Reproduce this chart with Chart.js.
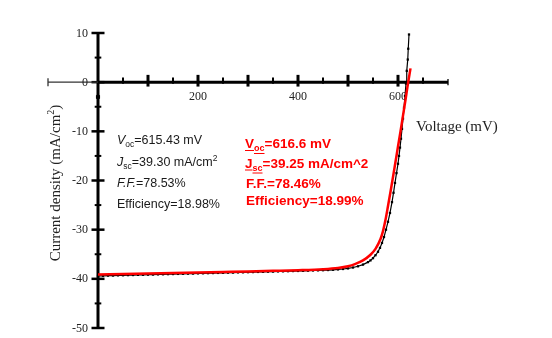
<!DOCTYPE html>
<html>
<head>
<meta charset="utf-8">
<script src="https://cdn.jsdelivr.net/npm/chart.js@4.4.1/dist/chart.umd.min.js"></script>
<style>
html,body{margin:0;padding:0;background:#fff;}
#wrap{width:552px;height:338px;position:relative;}
</style>
</head>
<body>
<div id="wrap"><canvas id="c" width="552" height="338"></canvas></div>
<script>
// Measured J-V (black squares)
const measV = [0,10,20,30,40,50,60,70,80,90,100,110,120,130,140,150,160,170,180,190,200,210,220,230,240,250,260,270,280,290,300,310,320,330,340,350,360,370,380,390,400,410,420,430,440,450,460,470,480,490,500,510,520,530,540,545,550,555,560,564,568,572,576,580,584,588,591,594,597,600,602,604,606,608,610,612,614,616,617.5,619.5,620.5,622];
const measJ = [-39.40,-39.38,-39.35,-39.33,-39.30,-39.28,-39.25,-39.23,-39.20,-39.18,-39.15,-39.13,-39.10,-39.08,-39.05,-39.03,-39.00,-38.98,-38.95,-38.93,-38.90,-38.88,-38.85,-38.83,-38.80,-38.78,-38.75,-38.73,-38.70,-38.68,-38.65,-38.63,-38.60,-38.58,-38.55,-38.53,-38.50,-38.48,-38.45,-38.42,-38.40,-38.37,-38.34,-38.31,-38.28,-38.25,-38.21,-38.16,-38.09,-38.00,-37.88,-37.70,-37.45,-37.10,-36.60,-36.25,-35.80,-35.20,-34.50,-33.70,-32.70,-31.50,-30.00,-28.40,-26.60,-24.40,-22.50,-20.50,-18.50,-16.60,-15.00,-13.30,-11.50,-9.50,-7.40,-5.20,-2.80,-0.30,2.30,4.60,6.80,9.70];
// Stray measured point on the J axis
const strayV = [0];
const strayJ = [-3.0];
// Fitted curve (red)
const fitV = [0,50,100,150,200,250,300,350,400,450,480,500,515,530,545,555,565,570,575,580,585,590,595,600,605,610,615,619,625];
const fitJ = [-39.10,-39.00,-38.90,-38.80,-38.70,-38.60,-38.50,-38.38,-38.25,-38.05,-37.80,-37.45,-36.95,-36.25,-35.10,-33.90,-31.90,-30.30,-28.00,-25.20,-22.30,-19.30,-16.20,-13.10,-10.00,-6.80,-3.60,-0.90,2.80];
// Axis ticks
const xTickLabels = ['200','400','600'];
const xTickValues = [200,400,600];
const yTickLabels = ['10','0','-10','-20','-30','-40','-50'];
const yTickValues = [10,0,-10,-20,-30,-40,-50];
const xTitle = 'Voltage (mV)';
const yTitle = 'Current density (mA/cm';

const toPts = (xs, ys) => xs.map((v,i)=>({x:v, y:ys[i]}));

function line(ctx,x1,y1,x2,y2){ctx.beginPath();ctx.moveTo(x1,y1);ctx.lineTo(x2,y2);ctx.stroke();}

const axesPlugin = {
  id:'axesPlugin',
  beforeDatasetsDraw(chart){
    const ctx = chart.ctx, x = chart.scales.x, y = chart.scales.y;
    const x0 = x.getPixelForValue(0), y0 = y.getPixelForValue(0);
    ctx.save();
    ctx.strokeStyle = '#000';
    ctx.lineCap = 'butt';
    // y axis
    ctx.lineWidth = 3;
    line(ctx, x0, y.getPixelForValue(10)-1, x0, y.getPixelForValue(-50)+1);
    for (let v = 10; v >= -50; v -= 5){
      const py = y.getPixelForValue(v);
      const major = v % 10 === 0;
      ctx.lineWidth = major ? 2.5 : 2;
      const len = major ? 6.5 : 3.3;
      line(ctx, x0-len, py, x0+len, py);
    }
    // x axis left thin part
    ctx.strokeStyle = '#333';
    ctx.lineWidth = 1.3;
    const xl = x.getPixelForValue(-100), xr = x.getPixelForValue(700);
    line(ctx, xl, y0, x0, y0);
    line(ctx, xl, y0-4, xl, y0+4);
    // x axis right thick part
    ctx.strokeStyle = '#000';
    ctx.lineWidth = 3;
    line(ctx, x0, y0, xr, y0);
    for (let v = 50; v < 700; v += 50){
      const px = x.getPixelForValue(v);
      const major = v % 100 === 0;
      ctx.lineWidth = major ? 3 : 2;
      if (major) line(ctx, px, y0-7.3, px, y0+4.4);
      else line(ctx, px, y0-4.6, px, y0+1.5);
    }
    ctx.lineWidth = 1.3;
    line(ctx, xr, y0-3.2, xr, y0+3.2);
    // tick labels
    ctx.fillStyle = '#222';
    ctx.font = '12px "Liberation Serif"';
    ctx.textAlign = 'right';
    ctx.textBaseline = 'middle';
    yTickValues.forEach((v,i)=>{ ctx.fillText(yTickLabels[i], x0-10, y.getPixelForValue(v)+0.5); });
    ctx.textAlign = 'center';
    ctx.textBaseline = 'top';
    xTickValues.forEach((v,i)=>{ ctx.fillText(xTickLabels[i], x.getPixelForValue(v), y0+8.5); });
    // axis titles
    ctx.font = '15px "Liberation Serif"';
    ctx.textAlign = 'left';
    ctx.textBaseline = 'alphabetic';
    ctx.fillText(xTitle, 416, 131);
    // y title rotated with superscript
    ctx.save();
    ctx.translate(60, 183);
    ctx.rotate(-Math.PI/2);
    ctx.font = '15px "Liberation Serif"';
    const w1 = ctx.measureText(yTitle).width;
    ctx.font = '10px "Liberation Serif"';
    const w2 = ctx.measureText('2').width;
    ctx.font = '15px "Liberation Serif"';
    const w3 = ctx.measureText(')').width;
    let sx = -(w1+w2+w3)/2;
    ctx.fillText(yTitle, sx, 0); sx += w1;
    ctx.font = '10px "Liberation Serif"';
    ctx.fillText('2', sx, -6); sx += w2;
    ctx.font = '15px "Liberation Serif"';
    ctx.fillText(')', sx, 0);
    ctx.restore();
    ctx.restore();
  },
  afterDraw(chart){
    const ctx = chart.ctx;
    ctx.save();
    ctx.textBaseline = 'alphabetic';
    ctx.textAlign = 'left';
    // pieces: [text, font, dy, underline]
    function drawRich(x, yb, pieces, color){
      ctx.fillStyle = color; ctx.strokeStyle = color;
      let cx = x;
      pieces.forEach(p=>{
        ctx.font = p[1];
        const w = ctx.measureText(p[0]).width;
        ctx.fillText(p[0], cx, yb + p[2]);
        if (p[3]) { ctx.lineWidth = 1; line(ctx, cx, yb+p[2]+2.5, cx+w, yb+p[2]+2.5); }
        cx += w;
      });
    }
    const bN = '12.5px "Liberation Sans"', bI = 'italic 12.5px "Liberation Sans"', bS = '8.5px "Liberation Sans"';
    const blk = '#1a1a1a';
    drawRich(117, 144, [['V', bI, 0], ['oc', bS, 3], ['=615.43 mV', bN, 0]], blk);
    drawRich(117, 165.5, [['J', bI, 0], ['sc', bS, 3], ['=39.30 mA/cm', bN, 0], ['2', bS, -5]], blk);
    drawRich(117, 187, [['F.F.', bI, 0], ['=78.53%', bN, 0]], blk);
    drawRich(117, 208, [['Efficiency=18.98%', bN, 0]], blk);
    const rB = 'bold 13.5px "Liberation Sans"', rS = 'bold 9px "Liberation Sans"';
    const red = '#ff0000';
    drawRich(245, 148, [['V', rB, 0, true], ['oc', rS, 3, true], ['=616.6 mV', rB, 0]], red);
    drawRich(245, 167.5, [['J', rB, 0, true], ['sc', rS, 3, true], ['=39.25 mA/cm^2', rB, 0]], red);
    drawRich(246, 188, [['F.F.=78.46%', rB, 0]], red);
    drawRich(246, 205, [['Efficiency=18.99%', rB, 0]], red);
    ctx.restore();
  }
};

new Chart(document.getElementById('c'), {
  type: 'scatter',
  data: {
    datasets: [
      {
        label: 'Fit',
        data: toPts(fitV, fitJ),
        showLine: true,
        borderColor: '#ff0000',
        borderWidth: 2.5,
        pointRadius: 0,
        cubicInterpolationMode: 'monotone',
        order: 0
      },
      {
        label: 'Measured',
        data: toPts(measV, measJ),
        showLine: true,
        borderColor: '#000',
        borderWidth: 1.2,
        backgroundColor: '#000',
        pointStyle: 'rect',
        pointRadius: 1.6,
        pointBorderWidth: 0,
        tension: 0,
        order: 1
      },
      {
        label: 'Stray',
        data: toPts(strayV, strayJ),
        showLine: false,
        backgroundColor: '#000',
        borderColor: '#000',
        pointStyle: 'rect',
        pointRadius: 2.2,
        order: 2
      }
    ]
  },
  options: {
    responsive: false,
    animation: false,
    devicePixelRatio: 1,
    layout: { padding: { left: 48, right: 104, top: 33, bottom: 10 } },
    plugins: { legend: { display: false }, tooltip: { enabled: false } },
    scales: {
      x: { type: 'linear', min: -100, max: 700, display: false },
      y: { type: 'linear', min: -50, max: 10, display: false }
    }
  },
  plugins: [axesPlugin]
});
</script>
</body>
</html>
